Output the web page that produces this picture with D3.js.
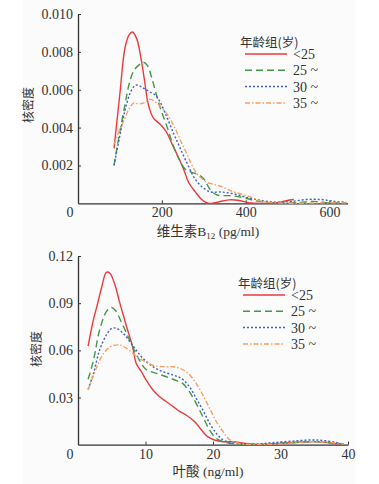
<!DOCTYPE html>
<html>
<head>
<meta charset="utf-8">
<script src="https://d3js.org/d3.v7.min.js"></script>
<style>
  body { margin: 0; background: #fff; }
  svg text { fill: #333; }
  .tick text, .ser { font-family: "Liberation Serif", "Times New Roman", Tinos, "DejaVu Serif", serif; }
  .tick text { font-size: 14px; }
  .cn { font-family: "Noto Sans CJK SC", sans-serif; }
</style>
</head>
<body>
<svg id="chart" width="379" height="484"></svg>
<script>
// age groups & styles
const groups = ["<25", "25 ~", "30 ~", "35 ~"];
const colors = ["#ec3a3c", "#3f9a46", "#3f5fc9", "#f7a060"];
const dashes = [null, "7,4", "2,2", "5,2,1.5,2"];

// vitamin B12 density curves [x, density]
const b12Red = [[86,0.0029],[100,0.0058],[112,0.0082],[122,0.0089],[130,0.00905],[140,0.0087],[150,0.0077],[158,0.0066],[168,0.0052],[180,0.0045],[195,0.0042],[210,0.0038],[225,0.0031],[238,0.0025],[252,0.0018],[264,0.0011],[280,0.0006],[295,0.0002],[310,0.0],[330,0.00005],[360,0.00018],[385,0.00015],[410,0.00002],[450,0.0],[480,0.00005],[500,0.00015],[515,0.0002]];
const b12Green = [[86,0.0020],[100,0.0038],[112,0.0052],[122,0.0063],[133,0.0070],[145,0.0073],[155,0.00745],[165,0.0073],[175,0.0067],[185,0.0059],[197,0.0050],[213,0.0040],[228,0.0030],[242,0.0023],[256,0.0018],[270,0.00165],[288,0.0015],[300,0.0013],[316,0.0007],[332,0.00044],[365,0.0004],[395,0.0003],[420,0.00015],[450,0.00005],[480,0.0],[520,0.00003],[560,0.0001],[600,0.00003],[640,0.00002]];
const b12Blue = [[86,0.0020],[100,0.0036],[112,0.0049],[124,0.0058],[135,0.0062],[142,0.00625],[155,0.0061],[170,0.0059],[185,0.0057],[197,0.0053],[213,0.0045],[228,0.0037],[240,0.0031],[252,0.0025],[265,0.0019],[276,0.0014],[292,0.00095],[316,0.0006],[340,0.0006],[372,0.0005],[404,0.0003],[437,0.00015],[476,0.00006],[510,0.0001],[545,0.0002],[580,0.0002],[612,0.0001],[640,0.00005]];
const b12Orange = [[86,0.0031],[100,0.0039],[112,0.0045],[122,0.0050],[133,0.0053],[145,0.00525],[157,0.0053],[170,0.0055],[182,0.0054],[197,0.0051],[213,0.0047],[226,0.0042],[237,0.0037],[249,0.0031],[260,0.0026],[272,0.0020],[284,0.00155],[296,0.0013],[308,0.0011],[325,0.001],[340,0.0009],[372,0.0006],[404,0.0004],[437,0.00012],[470,0.00003],[520,0.0],[580,0.00002],[640,0.00002]];

// folate density curves [x, density]
const folRed = [[1.5,0.0627],[2.2,0.078],[2.8,0.088],[3.5,0.1],[4.2,0.1096],[4.7,0.1092],[5.4,0.1026],[6.2,0.09],[7.2,0.075],[8.1,0.0623],[8.6,0.052],[9.4,0.0464],[10.1,0.0411],[11.1,0.0348],[12.1,0.0305],[13.1,0.0273],[14.1,0.0242],[15.1,0.021],[16.0,0.0189],[17.3,0.0146],[18.3,0.0093],[19.2,0.0051],[20.2,0.003],[21.5,0.0019],[22.9,0.0019],[24.9,0.0008],[26.4,0.0002],[28.5,0.0003],[29.8,0.0008],[32.8,0.0017],[35.7,0.0019],[37.7,0.0008],[39.4,0.0004]];
const folGreen = [[1.5,0.0416],[2.3,0.0538],[3.2,0.0729],[4.2,0.0846],[4.9,0.0873],[5.5,0.0856],[6.4,0.0782],[7.2,0.0708],[8.1,0.0623],[9.1,0.0538],[10.1,0.0478],[11.6,0.0454],[13.1,0.0432],[14.6,0.0407],[15.5,0.039],[16.5,0.0337],[17.5,0.0263],[18.5,0.0178],[19.5,0.0093],[20.5,0.004],[22.0,0.0013],[23.9,0.0004],[26.9,0.0002],[29.8,0.0008],[32.8,0.0015],[35.7,0.0019],[39.4,0.0004]];
const folBlue = [[1.5,0.0352],[2.3,0.0454],[3.2,0.0602],[4.2,0.0697],[5.0,0.074],[5.7,0.074],[6.7,0.0708],[7.7,0.0655],[8.6,0.0602],[9.6,0.055],[11.1,0.0496],[12.6,0.0464],[14.1,0.0443],[15.3,0.0422],[16.5,0.0369],[17.5,0.0295],[18.5,0.022],[19.5,0.0136],[20.5,0.0072],[21.5,0.003],[22.9,0.0013],[26.0,0.0004],[28.8,0.0013],[31.8,0.0023],[34.7,0.003],[36.7,0.0025],[39.4,0.0004]];
const folOrange = [[1.5,0.0348],[2.8,0.0496],[3.8,0.0581],[5.0,0.0627],[6.2,0.0634],[7.2,0.0613],[8.1,0.0581],[9.1,0.055],[10.4,0.0517],[11.6,0.05],[13.1,0.0496],[14.1,0.0496],[15.1,0.0485],[16.3,0.0454],[17.5,0.039],[18.5,0.0316],[19.5,0.0231],[20.5,0.0146],[21.5,0.0083],[22.4,0.0034],[23.9,0.0008],[26.9,0.0002],[29.8,0.0004],[32.8,0.0015],[35.7,0.0019],[39.4,0.0004]];

// tick labels
const b12Ticks = [200, 400, 600];
const b12YTicks = [0.002, 0.004, 0.006, 0.008, 0.010];
const folTicks = [10, 20, 30, 40];
const folYTicks = [0.03, 0.06, 0.09, 0.12];

const svg = d3.select("#chart");

// faint page tint like the scan
svg.append("rect").attr("x", 23).attr("y", 0).attr("width", 332).attr("height", 484).attr("fill", "#fbfbfb");

function panel(opt) {
  const g = svg.append("g");
  const x = d3.scaleLinear().domain(opt.xDomain).range([opt.left, opt.right]);
  const y = d3.scaleLinear().domain(opt.yDomain).range([opt.bottom, opt.top]);

  const yAxis = g.append("g").attr("transform", `translate(${opt.left},0)`)
    .call(d3.axisLeft(y).tickValues(opt.yTicks).tickFormat(opt.yFmt).tickSizeInner(-3).tickSizeOuter(0).tickPadding(5));
  const xAxis = g.append("g").attr("transform", `translate(0,${opt.bottom})`)
    .call(d3.axisBottom(x).tickValues(opt.xTicks).tickSizeInner(-3).tickSizeOuter(0).tickPadding(4));
  [yAxis, xAxis].forEach(a => {
    a.attr("font-family", null).attr("font-size", null);
    a.select(".domain").attr("stroke", "#333").attr("stroke-width", 1.3);
    a.selectAll(".tick line").attr("stroke", "#333");
  });
  // origin label
  g.append("text").attr("class", "ser").attr("x", opt.left - 8).attr("y", opt.bottom + 14)
    .attr("text-anchor", "middle").attr("font-size", 14).text("0");

  const line = d3.line().x(d => x(d[0])).y(d => y(d[1])).curve(d3.curveCatmullRom.alpha(0.5));
  opt.series.forEach((s, i) => {
    g.append("path").datum(s).attr("d", line).attr("fill", "none")
      .attr("stroke", colors[i]).attr("stroke-width", 1.4)
      .attr("stroke-dasharray", dashes[i]);
  });

  // y label
  g.append("text").attr("class", "cn").attr("font-size", 12)
    .attr("transform", `translate(${opt.yLabelX},${opt.yLabelY}) rotate(-90)`)
    .attr("text-anchor", "middle").attr("dominant-baseline", "central").text("核密度");

  // legend
  const lg = g.append("g");
  lg.append("text").attr("class", "cn").attr("x", opt.legX - 5).attr("y", opt.legY - 13)
    .attr("font-size", 12.5).attr("dominant-baseline", "central").text("年龄组(岁)");
  groups.forEach((name, i) => {
    const yy = opt.legY + i * 16.3;
    lg.append("line").attr("x1", opt.legX).attr("x2", opt.legX + 42).attr("y1", yy).attr("y2", yy)
      .attr("stroke", colors[i]).attr("stroke-width", 1.5).attr("stroke-dasharray", dashes[i]);
    lg.append("text").attr("class", "ser").attr("x", opt.legX + 48).attr("y", yy + 5)
      .attr("font-size", 14).text(name);
  });
  return g;
}

const topPanel = panel({
  xDomain: [0, 643], yDomain: [0, 0.010], left: 78, right: 347.5, top: 14, bottom: 203.3,
  xTicks: b12Ticks, yTicks: b12YTicks, yFmt: d3.format(".3f"),
  series: [b12Red, b12Green, b12Blue, b12Orange],
  yLabelX: 27, yLabelY: 105, legX: 245, legY: 54
});
const xt1 = topPanel.append("text").attr("x", 208).attr("y", 236).attr("text-anchor", "middle").attr("font-size", 13.5);
xt1.append("tspan").attr("class", "cn").text("维生素");
xt1.append("tspan").attr("class", "ser").text("B");
xt1.append("tspan").attr("class", "ser").attr("font-size", 9).attr("dy", 3).text("12");
xt1.append("tspan").attr("class", "ser").attr("dy", -3).text(" (pg/ml)");

const botPanel = panel({
  xDomain: [0, 40], yDomain: [0, 0.12], left: 78, right: 348, top: 256, bottom: 444.7,
  xTicks: folTicks, yTicks: folYTicks, yFmt: d3.format(".2f"),
  series: [folRed, folGreen, folBlue, folOrange],
  yLabelX: 35, yLabelY: 349, legX: 243, legY: 295
});
const xt2 = botPanel.append("text").attr("x", 208).attr("y", 476).attr("text-anchor", "middle").attr("font-size", 13.5);
xt2.append("tspan").attr("class", "cn").text("叶酸");
xt2.append("tspan").attr("class", "ser").text(" (ng/ml)");
</script>
</body>
</html>
